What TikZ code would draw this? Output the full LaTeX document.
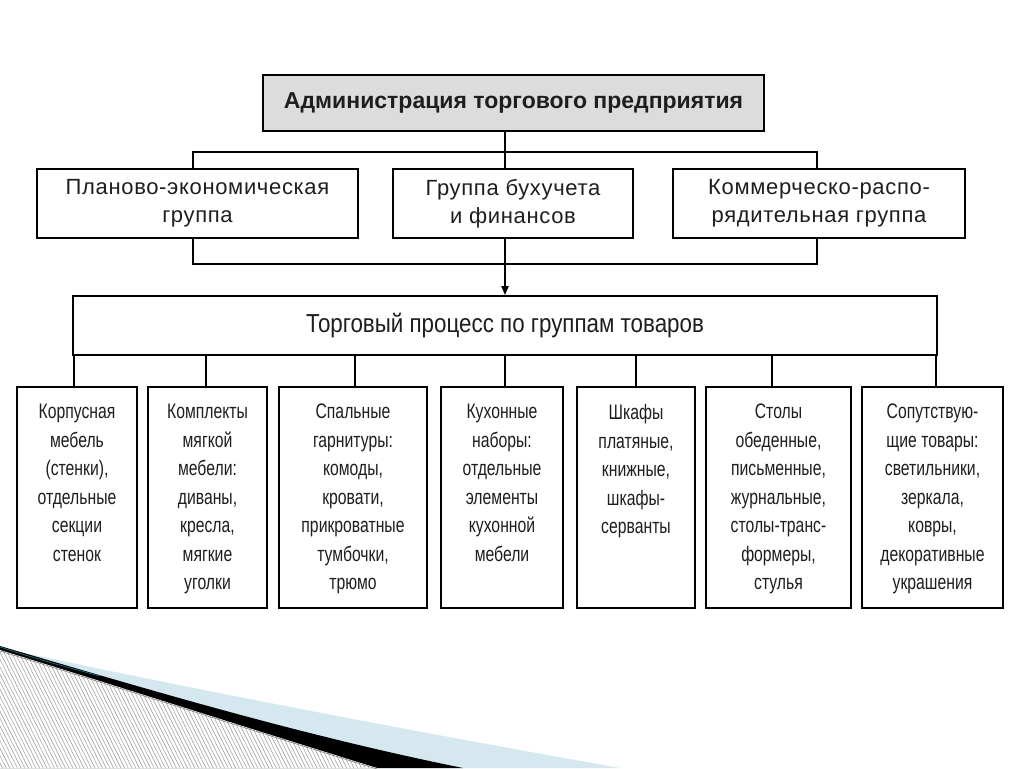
\documentclass[tikz,border=0pt]{standalone}
\usepackage{fontspec}
\setmainfont{Liberation Sans}
\newfontfamily\rowfont[LetterSpace=3]{Liberation Sans}
\newfontfamily\narrowfont[FakeStretch=0.75]{Liberation Sans}
\newfontfamily\midfont[FakeStretch=0.86]{Liberation Sans}
\usetikzlibrary{arrows.meta,calc}
\definecolor{txt}{HTML}{1E1E1E}
\definecolor{topfill}{HTML}{DCDCDC}
\definecolor{lightblue}{HTML}{D6E8EF}
\definecolor{tealedge}{HTML}{1F5F6F}
\tikzset{
  box/.style={draw=black, line width=1.8pt, inner sep=0pt, text=txt},
  topbox/.style={box, fill=topfill, line width=2.2pt, minimum height=56pt,
    font=\bfseries\fontsize{23}{28}\selectfont},
  rowbox/.style={box, minimum height=69pt, align=center,
    font=\rowfont\fontsize{22}{28}\selectfont},
  bigbox/.style={box, minimum height=59pt,
    font=\midfont\fontsize{26}{28}\selectfont},
  childbox/.style={box, minimum height=221pt},
  childtext/.style={inner sep=0pt, anchor=north, align=center, text=txt,
    font=\narrowfont\fontsize{21}{28.5}\selectfont},
  conn/.style={draw=black, line width=1.8pt}
}
\begin{document}
\begin{tikzpicture}[x=1pt,y=-1pt]
\useasboundingbox (0,0) rectangle (1024,768);
\fill[white] (0,0) rectangle (1024,768);

% decoration bottom-left
\fill[lightblue] (20,652) .. controls (150,680) and (350,720) .. (620,768) -- (0,768) -- (0,652) -- cycle;
\fill[black] (0,646) .. controls (150,690) and (300,735) .. (463,768) -- (0,768) -- cycle;
\fill[white] (0,650) .. controls (130,690) and (260,732) .. (377,768) -- (0,768) -- cycle;
\begin{scope}
  \clip (0,650) .. controls (130,690) and (260,732) .. (377,768) -- (0,768) -- cycle;
  \foreach \i in {-80,-76.3,...,400} \draw[gray!80, line width=0.5pt] (\i,640) -- ++(65,130);
\end{scope}
\draw[tealedge, line width=0.8pt] (0,647) .. controls (40,660) and (70,668) .. (100,676);
\draw[gray, line width=0.6pt] (0,651) .. controls (130,691) and (260,733) .. (377,769);

% nodes
\node[topbox, minimum width=501pt] (top) at (513.5,103) {Администрация торгового предприятия};
\node[rowbox, minimum width=321pt] (lft) at (197.5,203.5) {Планово-экономическая\\группа};
\node[rowbox, minimum width=240pt] (mid) at (513,203.5) {Группа бухучета\\и финансов};
\node[rowbox, minimum width=292pt] (rgt) at (819,203.5) {Коммерческо-распо-\\рядительная группа};
\node[bigbox, minimum width=864pt] (big) at (505,325.5) {Торговый процесс по группам товаров};

\node[childbox, minimum width=120pt] (c1) at (77,497.5) {};
\node[childbox, minimum width=119pt] (c2) at (207.5,497.5) {};
\node[childbox, minimum width=148pt] (c3) at (353,497.5) {};
\node[childbox, minimum width=122pt] (c4) at (502,497.5) {};
\node[childbox, minimum width=118pt] (c5) at (636,497.5) {};
\node[childbox, minimum width=145pt] (c6) at (778.5,497.5) {};
\node[childbox, minimum width=141pt] (c7) at (932.5,497.5) {};

\node[childtext] (t1) at ($(c1.north)+(0,18)$) {Корпусная\\мебель\\(стенки),\\отдельные\\секции\\стенок};
\node[childtext] (t2) at ($(c2.north)+(0,18)$) {Комплекты\\мягкой\\мебели:\\диваны,\\кресла,\\мягкие\\уголки};
\node[childtext] (t3) at ($(c3.north)+(0,18)$) {Спальные\\гарнитуры:\\комоды,\\кровати,\\прикроватные\\тумбочки,\\трюмо};
\node[childtext] (t4) at ($(c4.north)+(0,18)$) {Кухонные\\наборы:\\отдельные\\элементы\\кухонной\\мебели};
\node[childtext] (t5) at ($(c5.north)+(0,18)$) {Шкафы\\платяные,\\книжные,\\шкафы-\\серванты};
\node[childtext] (t6) at ($(c6.north)+(0,18)$) {Столы\\обеденные,\\письменные,\\журнальные,\\столы-транс-\\формеры,\\стулья};
\node[childtext] (t7) at ($(c7.north)+(0,18)$) {Сопутствую-\\щие товары:\\светильники,\\зеркала,\\ковры,\\декоративные\\украшения};

% coordinates
\coordinate (xm) at (505,0);
\coordinate (bl) at (193,0);
\coordinate (br) at (817,0);
\coordinate (ty) at (0,152);
\coordinate (by) at (0,264);
\coordinate (x1) at (74,0);
\coordinate (x2) at (206,0);
\coordinate (x3) at (355,0);
\coordinate (x4) at (505,0);
\coordinate (x5) at (636,0);
\coordinate (x6) at (772,0);
\coordinate (x7) at (936,0);

% connectors
\draw[conn] (top.south -| xm) -- (mid.north -| xm);
\draw[conn] (lft.north -| bl) -- (bl |- ty) -- (br |- ty) -- (rgt.north -| br);
\draw[conn] (lft.south -| bl) -- (bl |- by) -- (br |- by) -- (rgt.south -| br);
\draw[conn, -{Triangle[length=9pt,width=7pt]}] (mid.south -| xm) -- (big.north -| xm);
\foreach \k in {1,...,7} \draw[conn] (big.south -| x\k) -- (c\k.north -| x\k);
\end{tikzpicture}
\end{document}
